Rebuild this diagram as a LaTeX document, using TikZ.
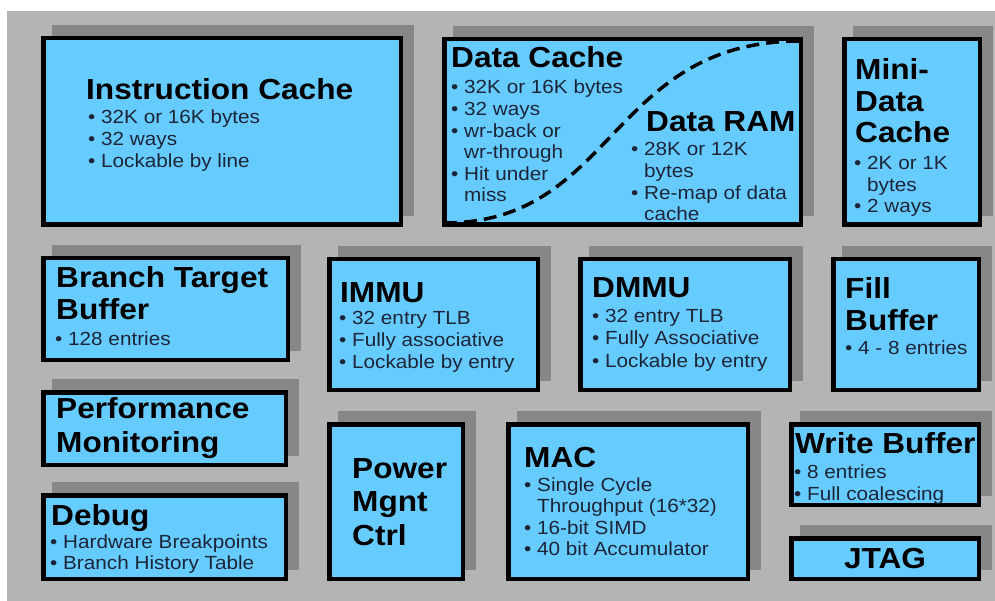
\documentclass[tikz,border=0pt]{standalone}
\usepackage{fontspec}
\setmainfont{Liberation Sans}[FakeStretch=1.09]
\usetikzlibrary{shadows}
\definecolor{panelgray}{HTML}{B4B4B4}
\definecolor{shadowgray}{HTML}{878787}
\definecolor{boxblue}{HTML}{66CCFF}
\definecolor{bultext}{HTML}{1C2438}
\newcommand\txtstack[1]{\begin{tabular}[t]{@{}l@{}}#1\end{tabular}}
\newcommand\cont{\hphantom{•~}}
\tikzset{
  blk/.style={rectangle, draw=black, line width=4.5pt, fill=boxblue, inner sep=0pt,
    drop shadow={shadow xshift=11pt, shadow yshift=11pt, opacity=1,
      fill=shadowgray, draw=shadowgray, line width=4.5pt}},
  ttl/.style={anchor=base west, inner sep=0pt, text=black,
    font=\fontsize{29}{32}\selectfont\bfseries},
  bul/.style={anchor=base west, inner sep=0pt, text=bultext,
    font=\fontsize{19}{21.6}\selectfont},
  splitline/.style={draw=black, line width=3.5pt, dash pattern=on 13pt off 7pt}
}
\begin{document}
\begin{tikzpicture}[x=1pt,y=-1pt]
\useasboundingbox (0,0) rectangle (995,601);
\fill[white] (0,0) rectangle (995,601);
\fill[panelgray] (7,11) rectangle (995,601);

% ---- blocks ----
\node[blk, minimum width=357.5pt, minimum height=186.5pt] (ic)    at (222,131.5) {};
\node[blk, minimum width=356.5pt, minimum height=185.5pt] (dc)    at (622.5,132) {};
\node[blk, minimum width=135.5pt, minimum height=185.5pt] (mini)  at (912,132) {};
\node[blk, minimum width=244.5pt, minimum height=101.5pt] (btb)   at (165.5,309) {};
\node[blk, minimum width=208.5pt, minimum height=130.5pt] (immu)  at (433.5,324.5) {};
\node[blk, minimum width=209.5pt, minimum height=130.5pt] (dmmu)  at (685,324.5) {};
\node[blk, minimum width=145.5pt, minimum height=130.5pt] (fill)  at (906,324.5) {};
\node[blk, minimum width=242.5pt, minimum height=72.5pt]  (perf)  at (164.5,428.5) {};
\node[blk, minimum width=133.5pt, minimum height=154.5pt] (power) at (396,501.5) {};
\node[blk, minimum width=239.5pt, minimum height=154.5pt] (mac)   at (628,501.5) {};
\node[blk, minimum width=187.5pt, minimum height=80.5pt]  (wbuf)  at (885,464.5) {};
\node[blk, minimum width=242.5pt, minimum height=83.5pt]  (dbg)   at (164.5,537) {};
\node[blk, minimum width=187.5pt, minimum height=40.5pt]  (jtag)  at (885,558.5) {};

% ---- data cache / data RAM split ----
\coordinate (splitA) at (444,223);
\coordinate (splitB) at (801,41);
\draw[splitline] (splitA) .. controls (616,223) and (609,41) .. (splitB);

% ---- texts ----
\node[ttl] (icT) at (86,100) {Instruction Cache};
\node[bul] (icB) at (88,124) {\txtstack{• 32K or 16K bytes\\• 32 ways\\• Lockable by line}};

\node[ttl] (dcT) at (451,68) {Data Cache};
\node[bul] (dcB) at (451,94) {\txtstack{• 32K or 16K bytes\\• 32 ways\\• wr-back or\\\cont wr-through\\• Hit under\\\cont miss}};

\node[ttl] (ramT) at (646,132) {Data RAM};
\node[bul] (ramB) at (631,156) {\txtstack{• 28K or 12K\\\cont bytes\\• Re-map of data\\\cont cache}};

\node[ttl, font=\fontsize{29}{31.5}\selectfont\bfseries] (miniT) at (855,80) {\txtstack{Mini-\\Data\\Cache}};
\node[bul, font=\fontsize{19}{21.5}\selectfont] (miniB) at (854,170) {\txtstack{• 2K or 1K\\\cont bytes\\• 2 ways}};

\node[ttl] (btbT) at (56,288) {\txtstack{Branch Target\\Buffer}};
\node[bul] (btbB) at (55,345) {• 128 entries};

\node[ttl] (immuT) at (340,302) {IMMU};
\node[bul, font=\fontsize{19}{22}\selectfont] (immuB) at (339,324) {\txtstack{• 32 entry TLB\\• Fully associative\\• Lockable by entry}};

\node[ttl] (dmmuT) at (592,298) {DMMU};
\node[bul, font=\fontsize{19}{22}\selectfont] (dmmuB) at (592,323) {\txtstack{• 32 entry TLB\\• Fully Associative\\• Lockable by entry}};

\node[ttl] (fillT) at (845,299) {\txtstack{Fill\\Buffer}};
\node[bul] (fillB) at (845,354) {• 4 - 8 entries};

\node[ttl, font=\fontsize{29}{34}\selectfont\bfseries] (perfT) at (56,418) {\txtstack{Performance\\Monitoring}};

\node[ttl, font=\fontsize{29}{33.5}\selectfont\bfseries] (powerT) at (352,478) {\txtstack{Power\\Mgnt\\Ctrl}};

\node[ttl] (macT) at (524,467) {MAC};
\node[bul] (macB) at (524,491) {\txtstack{• Single Cycle\\\cont Throughput (16*32)\\• 16-bit SIMD\\• 40 bit Accumulator}};

\node[ttl] (wbufT) at (795,453) {Write Buffer};
\node[bul, font=\fontsize{19}{22}\selectfont] (wbufB) at (794,478) {\txtstack{• 8 entries\\• Full coalescing}};

\node[ttl] (dbgT) at (51,525) {Debug};
\node[bul, font=\fontsize{19}{21}\selectfont] (dbgB) at (50,548) {\txtstack{• Hardware Breakpoints\\• Branch History Table}};

\node[ttl, anchor=base] (jtagT) at (885,568) {JTAG};
\end{tikzpicture}
\end{document}
